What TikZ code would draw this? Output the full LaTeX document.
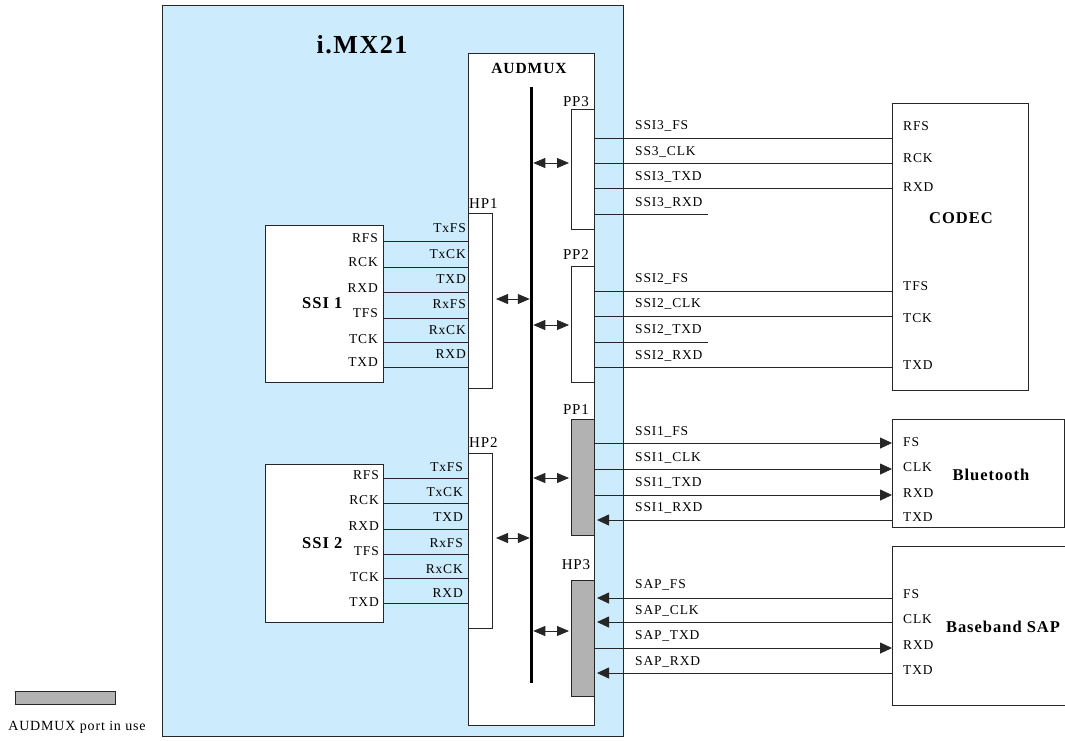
\documentclass[tikz,border=0pt]{standalone}
\usepackage{fontspec}
\setmainfont{Liberation Serif}[LetterSpace=6]
\usetikzlibrary{arrows.meta}
\definecolor{chipblue}{RGB}{204,235,252}
\definecolor{portgray}{RGB}{178,178,178}
\begin{document}
\begin{tikzpicture}[x=1pt,y=-1pt,
  box/.style={draw=black!85, line width=0.8pt, fill=white, inner sep=0pt, outer sep=0pt, anchor=north west},
  busbar/.style={fill=black, draw=none, inner sep=0pt, outer sep=0pt, anchor=north},
  lbl/.style={font=\fontsize{13.5}{13.5}\selectfont, inner sep=0pt},
  plbl/.style={font=\fontsize{15}{15}\selectfont, inner sep=0pt},
  ttl/.style={font=\bfseries\fontsize{16.5}{16.5}\selectfont, inner sep=0pt},
  sig/.style={draw=black!85, line width=0.8pt},
  bi/.style={sig, {Triangle[length=12pt,width=10pt]}-{Triangle[length=12pt,width=10pt]}},
  tip/.style={sig, -{Triangle[length=12pt,width=11pt]}}]
\useasboundingbox (0,0) rectangle (1065,740);
% chip
\node[box, fill=chipblue, minimum width=461pt, minimum height=731pt] (imx) at (162,5) {};
\node[font=\bfseries\fontsize{26}{26}\selectfont, inner sep=0pt] (imxt) at (362,45) {i.MX21};
% audmux
\node[box, minimum width=126pt, minimum height=672pt] (aud) at (468,53) {};
\node[ttl, font=\bfseries\fontsize{15.5}{15.5}\selectfont] (audt) at (529,68) {AUDMUX};
\node[busbar, minimum width=3.5pt, minimum height=596pt] (bus) at (531.5,87) {};
% ports
\node[box, minimum width=24pt, minimum height=175pt] (hp1) at (468,213) {};
\node[box, minimum width=24pt, minimum height=175pt] (hp2) at (468,453) {};
\node[box, minimum width=23pt, minimum height=120pt] (pp3) at (571,109) {};
\node[box, minimum width=23pt, minimum height=116pt] (pp2) at (571,266) {};
\node[box, fill=portgray, minimum width=23pt, minimum height=116pt] (pp1) at (571,419) {};
\node[box, fill=portgray, minimum width=23pt, minimum height=116pt] (hp3) at (571,580) {};
\node[plbl, anchor=west] (hp1t) at (469,204) {HP1};
\node[plbl, anchor=west] (hp2t) at (469,443) {HP2};
\node[plbl] (pp3t) at (576,102) {PP3};
\node[plbl] (pp2t) at (576,255) {PP2};
\node[plbl] (pp1t) at (576,410) {PP1};
\node[plbl] (hp3t) at (576,565) {HP3};
% bus arrows
\draw[bi, shorten <=4pt] (hp1.east |- 0,299) -- (bus.west |- 0,299);
\draw[bi, shorten <=4pt] (hp2.east |- 0,538) -- (bus.west |- 0,538);
\draw[bi, shorten >=2pt] (bus.east |- 0,163) -- (pp3.west |- 0,163);
\draw[bi, shorten >=2pt] (bus.east |- 0,325) -- (pp2.west |- 0,325);
\draw[bi, shorten >=2pt] (bus.east |- 0,478) -- (pp1.west |- 0,478);
\draw[bi, shorten >=2pt] (bus.east |- 0,631) -- (hp3.west |- 0,631);
% SSI 1
\node[box, minimum width=118pt, minimum height=157pt] (ssi1) at (265,225) {};
\node[ttl, anchor=west] (ssi1t) at (302,303) {SSI 1};
\foreach \t/\y in {RFS/238,RCK/262,RXD/288,TFS/313,TCK/339,TXD/362}
  \node[lbl, anchor=east] at (378,\y) {\t};
\foreach \t/\y in {TxFS/228,TxCK/254,TXD/279,RxFS/304,RxCK/330,RXD/354}
  \node[lbl, anchor=east] at (466,\y) {\t};
\foreach \y in {241,267,292,318,342,367}
  \draw[sig] (ssi1.east |- 0,\y) -- (hp1.west |- 0,\y);
% SSI 2
\node[box, minimum width=118pt, minimum height=158pt] (ssi2) at (265,464) {};
\node[ttl, anchor=west] (ssi2t) at (302,543) {SSI 2};
\foreach \t/\y in {RFS/475,RCK/500,RXD/526,TFS/551,TCK/577,TXD/602}
  \node[lbl, anchor=east] at (379,\y) {\t};
\foreach \t/\y in {TxFS/467,TxCK/492,TXD/517,RxFS/543,RxCK/569,RXD/593}
  \node[lbl, anchor=east] at (463,\y) {\t};
\foreach \y in {478,503,529,554,578,603}
  \draw[sig] (ssi2.east |- 0,\y) -- (hp2.west |- 0,\y);
% CODEC
\node[box, minimum width=136pt, minimum height=287pt] (codec) at (892,103) {};
\node[ttl] (codect) at (961,218) {CODEC};
\foreach \t/\y in {RFS/126,RCK/158,RXD/187,TFS/286,TCK/318,TXD/365}
  \node[lbl, anchor=west] at (903,\y) {\t};
\coordinate (pp3end) at (708,214);
\coordinate (pp2end) at (708,342);
\foreach \y in {138,163,188}
  \draw[sig] (pp3.east |- 0,\y) -- (codec.west |- 0,\y);
\draw[sig] (pp3.east |- pp3end) -- (pp3end);
\foreach \y in {291,316,367}
  \draw[sig] (pp2.east |- 0,\y) -- (codec.west |- 0,\y);
\draw[sig] (pp2.east |- pp2end) -- (pp2end);
\foreach \t/\y in {SSI3\_FS/126,SS3\_CLK/152,SSI3\_TXD/177,SSI3\_RXD/203,SSI2\_FS/279,SSI2\_CLK/304,SSI2\_TXD/330,SSI2\_RXD/356,SSI1\_FS/432,SSI1\_CLK/458,SSI1\_TXD/483,SSI1\_RXD/508,SAP\_FS/585,SAP\_CLK/611,SAP\_TXD/636,SAP\_RXD/662}
  \node[lbl, anchor=west] at (635,\y) {\t};
% Bluetooth
\node[box, minimum width=172pt, minimum height=108pt] (bt) at (892,419) {};
\node[ttl] (btt) at (991,475) {Bluetooth};
\foreach \t/\y in {FS/442,CLK/467,RXD/493,TXD/517}
  \node[lbl, anchor=west] at (903,\y) {\t};
\foreach \y in {443,469,495}
  \draw[tip] (pp1.east |- 0,\y) -- (bt.west |- 0,\y);
\draw[tip, shorten >=3pt] (bt.west |- 0,520) -- (pp1.east |- 0,520);
% Baseband SAP
\node[box, minimum width=190pt, minimum height=159pt] (sap) at (892,546) {};
\node[ttl] (sapt) at (1003,627) {Baseband SAP};
\foreach \t/\y in {FS/594,CLK/619,RXD/645,TXD/670}
  \node[lbl, anchor=west] at (903,\y) {\t};
\foreach \y in {598,622,673}
  \draw[tip, shorten >=3pt] (sap.west |- 0,\y) -- (hp3.east |- 0,\y);
\draw[tip] (hp3.east |- 0,648) -- (sap.west |- 0,648);
% legend
\node[box, fill=portgray, minimum width=100pt, minimum height=13pt] (leg) at (15,691) {};
\node[lbl, font=\fontsize{14}{14}\selectfont] (legt) at (77,727) {AUDMUX port in use};
\end{tikzpicture}
\end{document}
